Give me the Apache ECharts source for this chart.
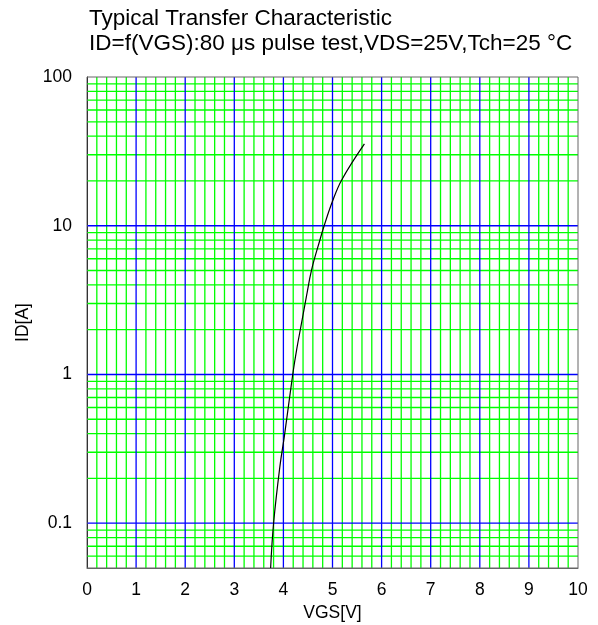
<!DOCTYPE html>
<html><head><meta charset="utf-8">
<script src="https://cdn.jsdelivr.net/npm/echarts@6/dist/echarts.min.js"></script>
<style>html,body{margin:0;padding:0;background:#fff}#c{width:598px;height:625px}</style>
</head><body><div id="c"></div>
<script>
const vgs = [3.74, 3.80, 3.93, 4.02, 4.19, 4.27, 4.37, 4.47, 4.575, 4.745, 4.83, 5.0, 5.19, 5.65];
const idA = [0.05, 0.1, 0.243, 0.385, 1.0, 1.47, 2.22, 3.36, 5.07, 8.05, 10, 14.6, 20.4, 35.5];
const xTicks = [0,1,2,3,4,5,6,7,8,9,10];
const yTickLabels = ['0.1','1','10','100'];
const yDecades = [0.1, 1, 10];
const X0 = 0, X1 = 10, Y0 = 0.05, Y1 = 100;

const xMinor = [];
for (let i = 1; i < 50; i++) { if (i % 5 !== 0) xMinor.push(+(i*0.2).toFixed(1)); }
const yMinor = [];
[0.01, 0.1, 1, 10].forEach(d => { for (let k = 2; k <= 9; k++) { const v = +(d*k).toPrecision(2); if (v > Y0 && v < Y1) yMinor.push(v); } });
const xMajor = xTicks.slice(1, -1);

const green = '#00ff00', blue = '#0000ff';
function gridLines(values, vertical, color, z) {
  return {
    type: 'custom', silent: true, z: z, animation: false, clip: false,
    data: values.map(v => vertical ? [v, Y0] : [X0, v]),
    renderItem: function (params, api) {
      let a, b;
      if (vertical) {
        a = api.coord([api.value(0), Y0]); b = api.coord([api.value(0), Y1]);
        return {type: 'line', shape: {x1: a[0], y1: a[1], x2: a[0], y2: b[1]}, style: {stroke: color, lineWidth: 1.3}};
      } else {
        a = api.coord([X0, api.value(1)]); b = api.coord([X1, api.value(1)]);
        return {type: 'line', shape: {x1: a[0], y1: a[1], x2: b[0], y2: a[1]}, style: {stroke: color, lineWidth: 1.3}};
      }
    }
  };
}

const FF = 'Liberation Sans, Arial, sans-serif';
const chart = echarts.init(document.getElementById('c'), null, {renderer: 'canvas'});
chart.setOption({
  animation: false,
  title: {
    text: 'Typical Transfer Characteristic\nID=f(VGS):80 μs pulse test,VDS=25V,Tch=25 °C',
    left: 84, top: 1,
    textStyle: {fontFamily: FF, fontSize: 22.5, fontWeight: 'normal', color: '#000', lineHeight: 25}
  },
  grid: {left: 87, right: 20, top: 77, bottom: 57, show: true, borderColor: '#666', borderWidth: 1,
    backgroundColor: 'transparent', z: 3, containLabel: false, outerBoundsMode: 'none'},
  xAxis: {
    type: 'value', min: X0, max: X1, interval: 1,
    name: 'VGS[V]', nameLocation: 'middle', nameGap: 33,
    nameTextStyle: {fontFamily: FF, fontSize: 17.5, color: '#000'},
    axisLine: {show: true, lineStyle: {color: '#666', width: 1}},
    axisTick: {show: false},
    splitLine: {show: false},
    axisLabel: {fontFamily: FF, fontSize: 17.5, color: '#000', margin: 13,
      formatter: v => xTicks.includes(v) ? String(v) : ''}
  },
  yAxis: {
    type: 'log', logBase: 10, min: Y0, max: Y1,
    name: 'ID[A]', nameLocation: 'middle', nameGap: 54, nameRotate: 90,
    nameTextStyle: {fontFamily: FF, fontSize: 17.5, color: '#000'},
    axisLine: {show: true, lineStyle: {color: '#000', width: 1}},
    axisTick: {show: false},
    splitLine: {show: false},
    axisLabel: {fontFamily: FF, fontSize: 17.5, color: '#000', margin: 15, showMinLabel: false,
      formatter: v => { const s = String(+Number(v).toPrecision(3)); return yTickLabels.includes(s) ? s : ''; }}
  },
  series: [
    gridLines(xMinor, true, green, 1),
    gridLines(yMinor, false, green, 1),
    gridLines(xMajor, true, blue, 2),
    gridLines(yDecades, false, blue, 2),
    {type: 'line', data: vgs.map((x, i) => [x, idA[i]]), smooth: 0.4, showSymbol: false, symbol: 'none',
      lineStyle: {color: '#000', width: 1.2}, z: 5, silent: true}
  ]
});
</script></body></html>
